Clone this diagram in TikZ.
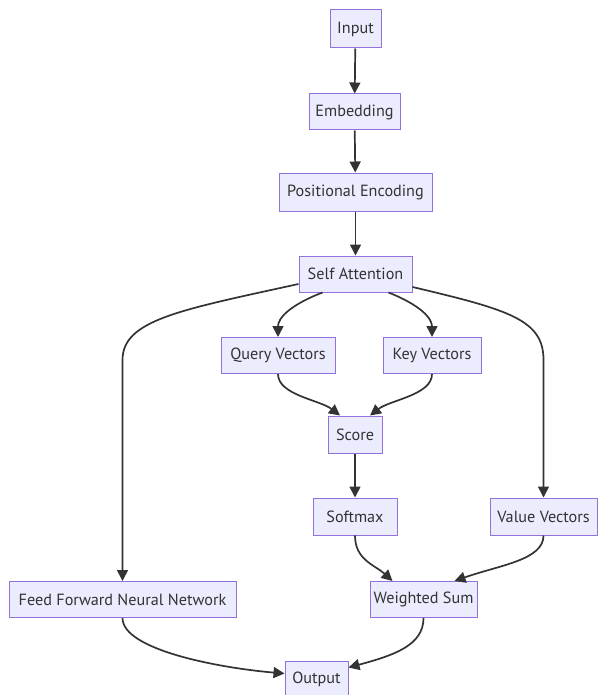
\documentclass[tikz,border=0pt]{standalone}
\usepackage{fontspec}
\setmainfont{PT Sans}
\usetikzlibrary{arrows.meta}
\definecolor{nodefill}{HTML}{ECECFF}
\definecolor{nodeline}{HTML}{9370DB}
\definecolor{ink}{HTML}{333333}
\begin{document}
\begin{tikzpicture}[x=1pt,y=-1pt,
	block/.style={draw=nodeline,fill=nodefill,text=ink,line width=1pt,minimum height=36,inner xsep=0pt,font=\fontsize{16.2}{19}\selectfont},
	flow/.style={draw=ink,line width=1.7pt,-{Triangle[length=11pt,width=11pt]}}]
	\useasboundingbox (0,0) rectangle (597,695);
	\node[block,minimum width=51,minimum height=38] (in) at (355.5,29) {Input};
	\node[block,minimum width=91] (emb) at (354.5,112) {Embedding};
	\node[block,minimum width=153,minimum height=38] (pos) at (355.5,192) {Positional Encoding};
	\node[block,minimum width=113] (sa) at (355.5,274) {Self Attention};
	\node[block,minimum width=114] (qv) at (278,355.5) {Query Vectors};
	\node[block,minimum width=98] (kv) at (432,355.5) {Key Vectors};
	\node[block,minimum width=54,minimum height=37] (sc) at (355,434.5) {Score};
	\node[block,minimum width=84,minimum height=37] (sm) at (355,516.5) {Softmax};
	\node[block,minimum width=107,minimum height=37] (vv) at (543.5,516.5) {Value Vectors};
	\node[block,minimum width=227] (ffn) at (122.5,599.5) {Feed Forward Neural Network};
	\node[block,minimum width=107] (ws) at (423.5,599.5) {Weighted Sum};
	\node[block,minimum width=63] (out) at (316.5,679.5) {Output};
	% main line
	\draw[flow] (in) -- (emb);
	\draw[flow] (emb) -- (pos);
	\draw[flow] (pos) -- (sa);
	% attention branches
	\draw[flow] ([xshift=-33]sa.south) .. controls (290,305) and (278,318) .. (qv.north);
	\draw[flow] ([xshift=33]sa.south) .. controls (420,305) and (432,318) .. (kv.north);
	\draw[flow] ([yshift=-10]sa.west) .. controls (180,310) and (122.5,320) .. (122.5,360) -- (ffn.north);
	\draw[flow] ([yshift=-13]sa.east) .. controls (510,310) and (543.5,320) .. (543.5,360) -- (vv.north);
	\draw[flow] (qv.south) .. controls (278,395) and (320,400) .. ([xshift=-15]sc.north);
	\draw[flow] (kv.south) .. controls (432,395) and (390,400) .. ([xshift=15]sc.north);
	\draw[flow] (sc) -- (sm);
	\draw[flow] (sm.south) .. controls (355,560) and (375,565) .. ([xshift=-31]ws.north);
	\draw[flow] (vv.south) .. controls (543.5,560) and (500,565) .. ([xshift=31]ws.north);
	% to output
	\draw[flow] (ffn.south) .. controls (122.5,650) and (220,668) .. ([yshift=6]out.west);
	\draw[flow] (ws.south) .. controls (423.5,645) and (395,655) .. ([yshift=12]out.east);
\end{tikzpicture}
\end{document}
